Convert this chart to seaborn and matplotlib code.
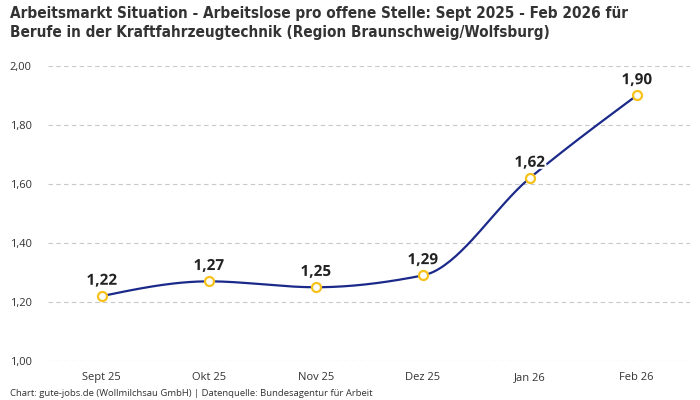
import numpy as np
import pandas as pd
import matplotlib
matplotlib.use('Agg')
import matplotlib.pyplot as plt
import matplotlib.patheffects as pe
import seaborn as sns

months = ['Sept 25', 'Okt 25', 'Nov 25', 'Dez 25', 'Jan 26', 'Feb 26']
ratio = [1.22, 1.27, 1.25, 1.29, 1.62, 1.90]
y_ticks = [1.0, 1.2, 1.4, 1.6, 1.8, 2.0]

TITLE = ('Arbeitsmarkt Situation - Arbeitslose pro offene Stelle: Sept 2025 - Feb 2026 für\n'
         'Berufe in der Kraftfahrzeugtechnik (Region Braunschweig/Wolfsburg)')
SOURCE = 'Chart: gute-jobs.de (Wollmilchsau GmbH) | Datenquelle: Bundesagentur für Arbeit'

LINE = '#1b2a8a'
MARKER = '#f7c21b'


def monotone_curve(x, y, n=40):
    # monotone cubic (like d3 curveMonotoneX), only for the drawn line shape
    x = np.asarray(x, float)
    y = np.asarray(y, float)
    h = np.diff(x)
    d = np.diff(y) / h
    m = np.zeros_like(y)
    for i in range(1, len(y) - 1):
        if d[i - 1] * d[i] <= 0:
            m[i] = 0
        else:
            m[i] = 3 * (h[i - 1] + h[i]) / ((2 * h[i] + h[i - 1]) / d[i - 1] + (h[i] + 2 * h[i - 1]) / d[i])
    m[0] = (3 * d[0] - m[1]) / 2
    m[-1] = (3 * d[-1] - m[-2]) / 2
    xs, ys = [], []
    for i in range(len(h)):
        t = np.linspace(0, 1, n)
        h00 = 2 * t**3 - 3 * t**2 + 1
        h10 = t**3 - 2 * t**2 + t
        h01 = -2 * t**3 + 3 * t**2
        h11 = t**3 - t**2
        xs.append(x[i] + t * h[i])
        ys.append(h00 * y[i] + h10 * h[i] * m[i] + h01 * y[i + 1] + h11 * h[i] * m[i + 1])
    return np.concatenate(xs), np.concatenate(ys)


df = pd.DataFrame({'Monat': months, 'Wert': ratio})
df['pos'] = range(len(df))

sns.set_style('white')
plt.rcParams['font.family'] = ['Open Sans', 'DejaVu Sans']

fig = plt.figure(figsize=(7, 4), dpi=100)
ax = fig.add_axes([0.069, 0.0975, 0.917, 0.7375])

cx, cy = monotone_curve(df['pos'], df['Wert'])
sns.lineplot(x=cx, y=cy, ax=ax, color=LINE, linewidth=1.6, sort=False, zorder=2)
sns.scatterplot(data=df, x='pos', y='Wert', ax=ax, s=42, color='white',
                edgecolor=MARKER, linewidth=1.6, zorder=3)

for p, v in zip(df['pos'], df['Wert']):
    ax.annotate(f'{v:.2f}'.replace('.', ','), (p, v), xytext=(0, 6), textcoords='offset points',
                ha='center', va='bottom', fontsize=11, fontweight='bold', color='#222222',
                path_effects=[pe.withStroke(linewidth=3, foreground='white')], zorder=4)

ax.set_xlim(-0.5, 5.5)
ax.set_ylim(1.0, 2.0)
ax.set_xticks(df['pos'])
ax.set_xticklabels(months)
ax.set_yticks(y_ticks)
ax.set_yticklabels([f'{t:.2f}'.replace('.', ',') for t in y_ticks])
ax.tick_params(axis='both', length=0, labelsize=8, colors='#333333')
ax.tick_params(axis='x', pad=8)
ax.tick_params(axis='y', pad=12)
ax.grid(axis='y', color='#c8c8c8', linestyle=(0, (4, 3)), linewidth=0.8)
ax.set_xlabel('')
ax.set_ylabel('')
sns.despine(ax=ax, left=True, bottom=True)

fig.text(0.014, 0.985, TITLE, ha='left', va='top', fontsize=11, fontweight='bold',
         fontstretch='condensed', color='#333333', family=['DejaVu Sans'],
         linespacing=1.35)
fig.text(0.014, 0.004, SOURCE, ha='left', va='bottom', fontsize=6.8, color='#333333')

fig.savefig('out.png', dpi=100)
